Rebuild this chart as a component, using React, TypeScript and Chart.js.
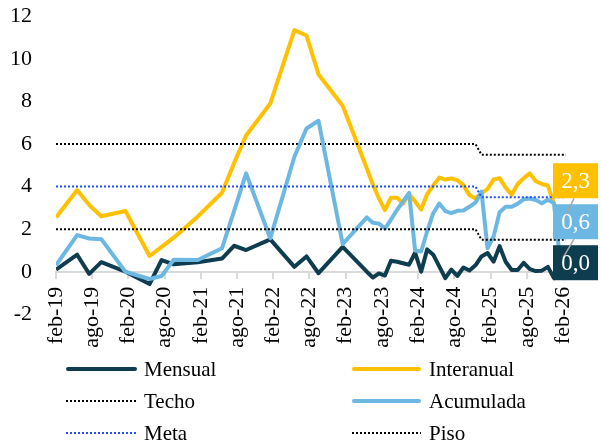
import React, { useEffect, useRef } from 'react';
import { Chart, registerables } from 'chart.js';

Chart.register(...registerables);

// x position of each observation, in months after the feb-19 tick
const xMonths = [
  0, 3.5, 5.5, 7.5, 11.5, 15.5, 17.5, 19.5, 23.5, 27.5, 29.5, 31.5, 35.5, 39.5, 41.5, 43.5, 47.5,
  51.5, 52.5, 53.5, 54.5, 55.5, 56.5, 57.5, 58.5, 59.5, 60.5, 61.5, 62.5, 63.5, 64.5, 65.5, 66.5,
  67.5, 68.5, 69.5, 70.5, 71.5, 72.5, 73.5, 74.5, 75.5, 76.5, 77.5, 78.5, 79.5, 80.5, 81.5, 82.5,
  83.5, 84.5,
];

const mensual = [
  0.1, 0.8, -0.1, 0.45, 0.0, -0.58, 0.55, 0.35, 0.45, 0.62, 1.22, 1.02, 1.52, 0.23, 0.72, -0.07, 1.17,
  0.0, -0.27, -0.08, -0.18, 0.52, 0.47, 0.4, 0.33, 0.9, 0.0, 1.05, 0.8, 0.25, -0.3, 0.1, -0.2,
  0.2, 0.06, 0.3, 0.72, 0.88, 0.47, 1.2, 0.47, 0.08, 0.08, 0.42, 0.12, 0.03, 0.05, 0.23, -0.3,
  0.6, 0.0,
];

const interanual = [
  2.55, 3.84, 3.13, 2.61, 2.85, 0.74, 1.17, 1.6, 2.6, 3.71, 5.1, 6.4, 7.9, 11.35, 11.1, 9.27, 7.8,
  4.85, 4.1, 3.45, 2.9, 3.48, 3.48, 3.2, 3.65, 3.3, 2.92, 3.65, 4.05, 4.42, 4.33, 4.38, 4.3,
  4.07, 3.6, 3.44, 3.7, 3.88, 4.33, 4.4, 3.95, 3.62, 4.12, 4.4, 4.62, 4.25, 4.12, 4.05, 3.2,
  2.7, 2.3,
];

const acumulada = [
  0.3, 1.72, 1.56, 1.53, 0.0, -0.34, -0.2, 0.56, 0.55, 1.1, 2.85, 4.62, 1.57, 5.4, 6.73, 7.09, 1.3,
  2.55, 2.3, 2.26, 2.03, 2.45, 2.9, 3.3, 3.7, 1.0, 0.95, 1.9, 2.75, 3.2, 2.85, 2.75, 2.86,
  2.88, 3.05, 3.25, 3.76, 1.1, 1.65, 2.8, 3.05, 3.05, 3.2, 3.4, 3.44, 3.37, 3.22, 3.38, 3.22,
  0.6, 0.6,
];

// target band (step change at the start of 2025)
const targetX = [0, 69.5, 70.5, 84.5];
const techo = [6, 6, 5.5, 5.5];
const meta = [4, 4, 3.5, 3.5];
const piso = [2, 2, 1.5, 1.5];

const tickMonths = [0, 6, 12, 18, 24, 30, 36, 42, 48, 54, 60, 66, 72, 78, 84];
const tickLabels = [
  'feb-19', 'ago-19', 'feb-20', 'ago-20', 'feb-21', 'ago-21', 'feb-22', 'ago-22',
  'feb-23', 'ago-23', 'feb-24', 'ago-24', 'feb-25', 'ago-25', 'feb-26',
];

const FONT = "'Liberation Serif', 'Times New Roman', Times, serif";
const C_MENSUAL = '#0F3D50';
const C_INTERANUAL = '#FFC000';
const C_ACUMULADA = '#6DB8E2';
const C_META = '#1F4FFF';
const C_BLACK = '#000000';

export default function App() {
  const ref = useRef<HTMLCanvasElement>(null);

  const legendItems = [
    { label: 'Mensual', color: C_MENSUAL, dotted: false },
    { label: 'Interanual', color: C_INTERANUAL, dotted: false },
    { label: 'Techo', color: C_BLACK, dotted: true },
    { label: 'Acumulada', color: C_ACUMULADA, dotted: false },
    { label: 'Meta', color: C_META, dotted: true },
    { label: 'Piso', color: C_BLACK, dotted: true },
  ];

  useEffect(() => {
    if (!ref.current) return;
    const pts = (ys: number[]) => ys.map((y, i) => ({ x: xMonths[i], y }));
    const tpts = (ys: number[]) => ys.map((y, i) => ({ x: targetX[i], y }));

    const endLabelPlugin = {
      id: 'endLabels',
      afterDraw(chart: any) {
        const c = chart.ctx as CanvasRenderingContext2D;
        const items: any[] = [];
        chart.data.datasets.forEach((ds: any, i: number) => {
          if (!ds.endLabel) return;
          const m = chart.getDatasetMeta(i);
          const el = m.data[m.data.length - 1];
          const v = ds.data[ds.data.length - 1].y;
          items.push({ x: el.x, y: el.y, v, color: ds.borderColor });
        });
        items.sort((a, b) => b.y - a.y);
        const W = 45, H = 35, GAP = 6;
        let prev: number | null = null;
        for (const it of items) {
          let cy = it.y - 9;
          if (prev !== null) cy = Math.min(cy, prev - H - GAP);
          it.cy = cy;
          it.bx = it.x - 13;
          prev = cy;
        }
        c.save();
        items.forEach((it) => {
          c.fillStyle = it.color;
          c.fillRect(it.bx, it.cy - H / 2, W, H);
        });
        c.strokeStyle = '#A6A6A6';
        c.lineWidth = 1.5;
        items.forEach((it) => {
          const bottom = it.cy + H / 2;
          if (it.y > bottom) {
            c.beginPath();
            c.moveTo(it.bx + 21, bottom);
            c.lineTo(it.x - 3, it.y - 1);
            c.stroke();
          }
        });
        c.fillStyle = '#FFFFFF';
        c.font = `23px ${FONT}`;
        c.textAlign = 'center';
        c.textBaseline = 'middle';
        items.forEach((it) => {
          c.fillText(it.v.toFixed(1).replace('.', ','), it.bx + W / 2, it.cy + 1);
        });
        c.restore();
      },
    };

    const chart = new Chart(ref.current, {
      type: 'line',
      data: {
        datasets: [
          { label: 'Mensual', data: pts(mensual), borderColor: C_MENSUAL, borderWidth: 4, order: 6, endLabel: true } as any,
          { label: 'Interanual', data: pts(interanual), borderColor: C_INTERANUAL, borderWidth: 4, order: 5, endLabel: true } as any,
          { label: 'Techo', data: tpts(techo), borderColor: C_BLACK, borderWidth: 2, borderDash: [2, 2], order: 4 },
          { label: 'Acumulada', data: pts(acumulada), borderColor: C_ACUMULADA, borderWidth: 4, order: 3, endLabel: true } as any,
          { label: 'Meta', data: tpts(meta), borderColor: C_META, borderWidth: 2, borderDash: [2, 2], order: 2 },
          { label: 'Piso', data: tpts(piso), borderColor: C_BLACK, borderWidth: 2, borderDash: [2, 2], order: 1 },
        ],
      },
      options: {
        responsive: false,
        animation: false,
        layout: { padding: { left: 0, right: 35, top: 16.3, bottom: 130.7 } },
        plugins: { legend: { display: false }, tooltip: { enabled: false } },
        elements: {
          point: { radius: 0, hoverRadius: 0 },
          line: { tension: 0, borderJoinStyle: 'round', borderCapStyle: 'butt', fill: false },
        },
        scales: {
          x: {
            type: 'linear',
            position: { y: 0 } as any,
            min: 0,
            max: 84.5,
            afterBuildTicks: (scale: any) => {
              scale.ticks = tickMonths.map((v) => ({ value: v }));
            },
            ticks: {
              autoSkip: false,
              minRotation: 90,
              maxRotation: 90,
              padding: 9,
              color: '#000',
              font: { family: FONT, size: 22 },
              callback: (value: any) => {
                const i = tickMonths.indexOf(Number(value));
                return i >= 0 ? tickLabels[i] : '';
              },
            },
            grid: { display: true, drawOnChartArea: false, drawTicks: true, tickLength: 6, color: '#D9D9D9', lineWidth: 2 },
            border: { display: true, color: '#D9D9D9', width: 2 },
          },
          y: {
            type: 'linear',
            position: 'left',
            min: -2,
            max: 12,
            afterFit: (scale: any) => {
              scale.width = 56;
            },
            ticks: {
              stepSize: 2,
              padding: 0,
              color: '#000',
              font: { family: FONT, size: 22 },
              callback: (value: any) => String(value),
            },
            grid: { display: false, drawTicks: true, tickLength: 24 },
            border: { display: false },
          },
        },
      } as any,
      plugins: [endLabelPlugin],
    });
    return () => chart.destroy();
  }, []);

  const colX = [66, 352];
  const sampleW = [71, 69];
  const textX = [144, 429];
  const rowY = [369, 401, 433];

  return (
    <div style={{ position: 'absolute', left: 0, top: 0, width: 601, height: 445, background: '#fff', overflow: 'hidden' }}>
      <canvas ref={ref} width={601} height={445} style={{ display: 'block', width: 601, height: 445 }} />
      {legendItems.map((it, i) => {
        const col = i % 2;
        const row = Math.floor(i / 2);
        return (
          <div
            key={it.label}
            style={{
              position: 'absolute',
              left: colX[col],
              top: rowY[row] - 15,
              height: 30,
              display: 'flex',
              alignItems: 'center',
              fontFamily: FONT,
              fontSize: 21,
              color: '#000',
              whiteSpace: 'nowrap',
            }}
          >
            <span
              style={{
                display: 'inline-block',
                width: sampleW[col],
                height: it.dotted ? 2 : 4,
                borderRadius: it.dotted ? 0 : 2,
                background: it.dotted
                  ? `repeating-linear-gradient(to right, ${it.color} 0px, ${it.color} 2px, transparent 2px, transparent 4px)`
                  : it.color,
                marginRight: textX[col] - colX[col] - sampleW[col],
              }}
            />
            <span>{it.label}</span>
          </div>
        );
      })}
    </div>
  );
}
